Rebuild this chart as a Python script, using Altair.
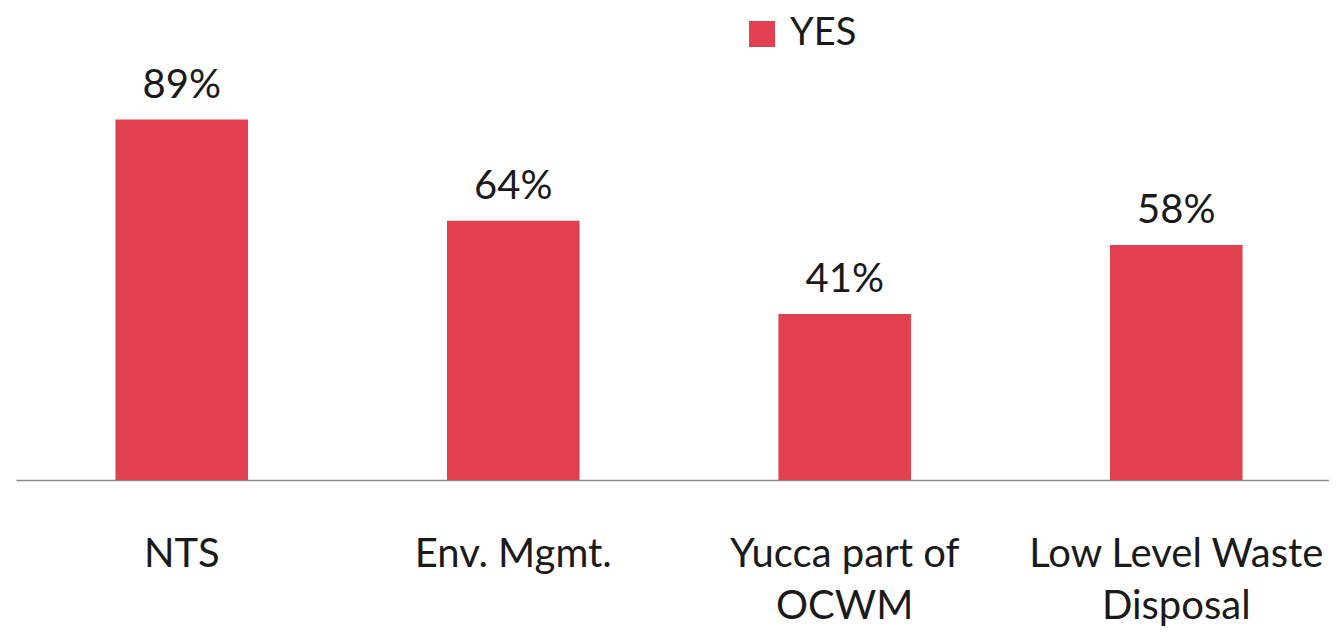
import altair as alt
import pandas as pd

categories = ["NTS", "Env. Mgmt.", "Yucca part of\nOCWM", "Low Level Waste\nDisposal"]
values = [89, 64, 41, 58]
labels = ["89%", "64%", "41%", "58%"]
series = ["YES", "YES", "YES", "YES"]

df = pd.DataFrame({"cat": categories, "val": values, "lab": labels, "series": series})

FONT = "Lato"
RED = "#e14050"

x = alt.X(
    "cat:N",
    sort=categories,
    title=None,
    scale=alt.Scale(range=[0, 1326], paddingInner=0.6, paddingOuter=0.3),
    axis=alt.Axis(
        labelAngle=0,
        labelFont=FONT,
        labelFontSize=40,
        labelColor="#1a1a1a",
        labelPadding=54,
        labelLineHeight=52,
        labelLimit=0,
        labelExpr="split(datum.label, '\\n')",
        ticks=False,
        domainColor="#8c8c8c",
        domainWidth=1.5,
        labelOverlap=False,
        labelBound=False,
        labelFlush=False,
    ),
)
y = alt.Y("val:Q", scale=alt.Scale(domain=[0, 100]), axis=None)

bars = alt.Chart(df).mark_bar().encode(
    x=x,
    y=y,
    color=alt.Color(
        "series:N",
        scale=alt.Scale(range=[RED]),
        legend=alt.Legend(
            title=None,
            orient="none",
            legendX=727,
            legendY=-60,
            symbolType="square",
            symbolSize=676,
            symbolStrokeWidth=0,
            labelFont=FONT,
            labelFontSize=38,
            labelColor="#1a1a1a",
            labelOffset=9,
            padding=0,
        ),
    ),
)

text = alt.Chart(df).mark_text(
    font=FONT, fontSize=40, color="#1a1a1a", baseline="alphabetic", dy=-22
).encode(x=alt.X("cat:N", sort=categories), y=y, text="lab:N")

chart = (
    alt.layer(bars, text)
    .properties(
        width=1313,
        height=405,
        autosize=alt.AutoSizeParams(type="none"),
        padding={"left": 8, "top": 67, "right": 0, "bottom": 146},
    )
    .configure_view(stroke=None)
)

chart.save("out.html", embed_options={"renderer": "svg", "actions": False})
